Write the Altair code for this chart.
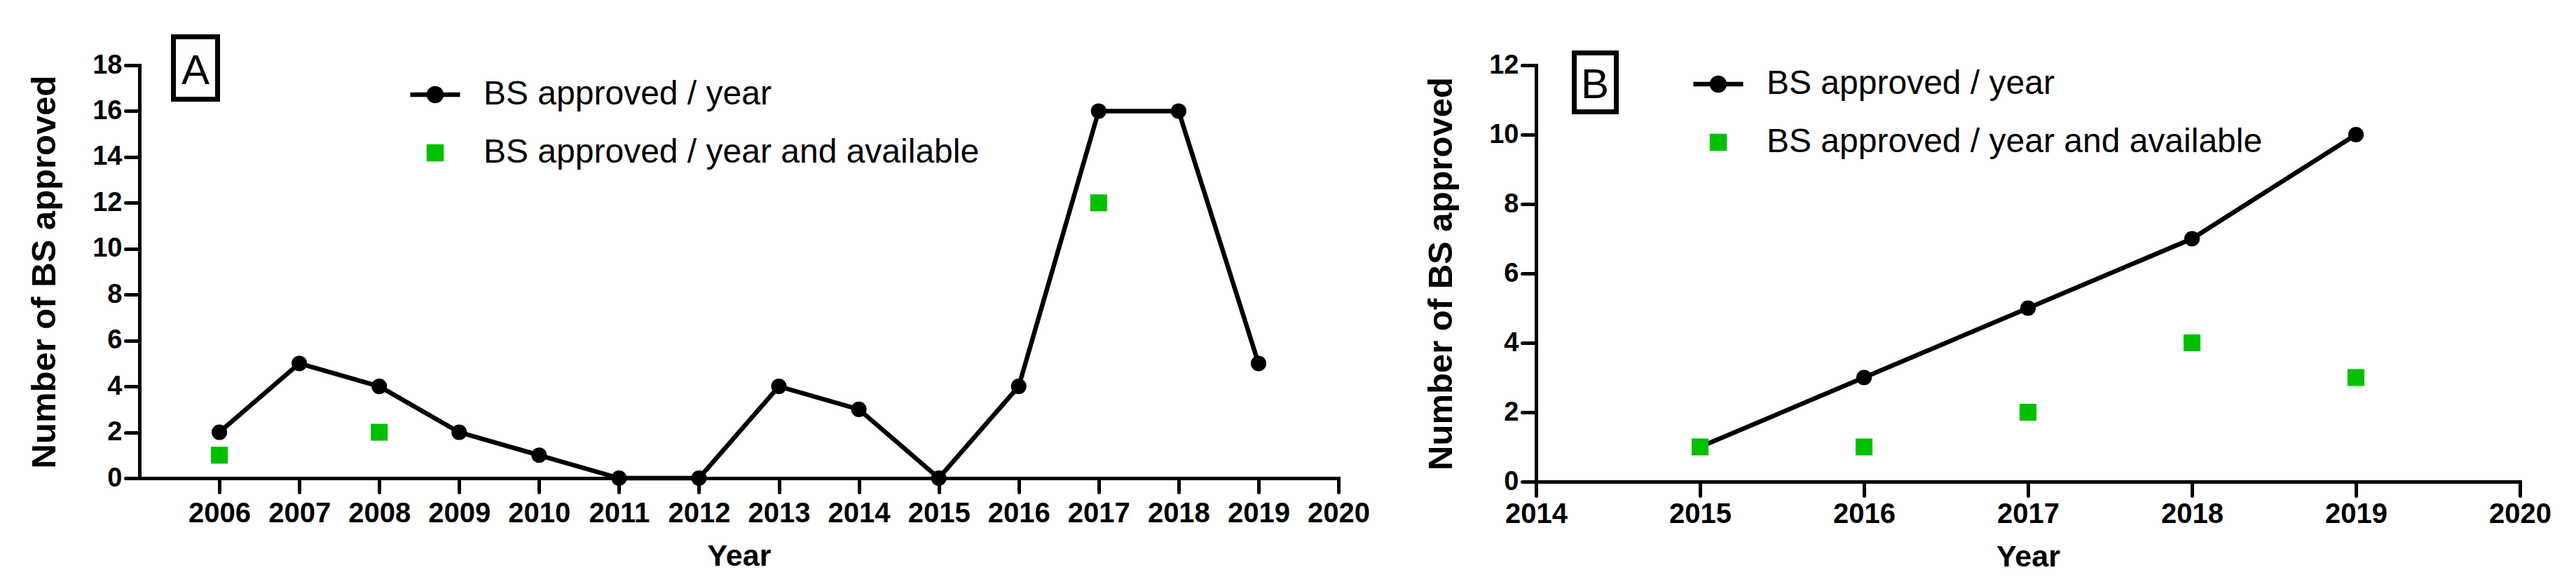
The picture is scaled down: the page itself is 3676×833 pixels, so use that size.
import altair as alt
import pandas as pd

# ---------------- data ----------------
series_names = ["BS approved / year", "BS approved / year and available"]

years_a = [2006, 2007, 2008, 2009, 2010, 2011, 2012, 2013, 2014, 2015, 2016, 2017, 2018, 2019]
approved_a = [2, 5, 4, 2, 1, 0, 0, 4, 3, 0, 4, 16, 16, 5]
avail_years_a = [2006, 2008, 2017]
avail_a = [1, 2, 12]

years_b = [2015, 2016, 2017, 2018, 2019]
approved_b = [1, 3, 5, 7, 10]
avail_years_b = [2015, 2016, 2017, 2018, 2019]
avail_b = [1, 1, 2, 4, 3]

x_ticks_a = list(range(2006, 2021))
x_ticks_b = list(range(2014, 2021))
y_ticks_a = list(range(0, 19, 2))
y_ticks_b = list(range(0, 13, 2))

# ---------------- style ----------------
FONT = "Liberation Sans"
GREEN = "#00C000"
# legend symbol: a short line through a dot (unit box, scaled by sqrt(size)/2)
LINE_DOT = "M-2.9,-0.27L2.9,-0.27L2.9,0.27L-2.9,0.27Z M1,0A1,1,0,1,1,-1,0A1,1,0,1,1,1,0Z"


def panel(letter, years, approved, avail_years, avail, xdom, xticks, ydom, yticks,
          width, height, legend_x, legend_y, box, text_xy, xlab_pad):
    line_df = pd.DataFrame({"Year": years, "Value": approved, "Series": series_names[0]})
    avail_df = pd.DataFrame({"Year": avail_years, "Value": avail, "Series": series_names[1]})
    both = pd.concat([line_df, avail_df], ignore_index=True)

    x = alt.X("Year:Q",
              scale=alt.Scale(domain=xdom, nice=False, zero=False),
              axis=alt.Axis(values=xticks, format="d", title="Year",
                            labelPadding=xlab_pad))
    y = alt.Y("Value:Q",
              scale=alt.Scale(domain=ydom, nice=False, zero=True),
              axis=alt.Axis(values=yticks, title="Number of BS approved"))

    line = alt.Chart(line_df).mark_line(color="black", strokeWidth=6.5).encode(x=x, y=y)
    dots = alt.Chart(line_df).mark_point(filled=True, shape="circle", size=490,
                                         color="black", opacity=1).encode(x=x, y=y)
    squares = alt.Chart(avail_df).mark_point(filled=True, shape="square", size=580,
                                             color=GREEN, opacity=1).encode(x=x, y=y)

    leg = alt.Legend(orient="none", legendX=legend_x, legendY=legend_y, title=None,
                     labelFont=FONT, labelFontSize=48, labelColor="black",
                     labelLimit=2000, labelOffset=45, rowPadding=35, padding=0,
                     symbolSize=600, symbolOpacity=1, symbolStrokeWidth=0)
    legend_layer = alt.Chart(both).mark_point(filled=True, opacity=0, size=1).encode(
        x=x, y=y,
        color=alt.Color("Series:N", scale=alt.Scale(domain=series_names, range=["black", GREEN]),
                        legend=leg),
        shape=alt.Shape("Series:N", scale=alt.Scale(domain=series_names, range=[LINE_DOT, "square"]),
                        legend=leg),
    )

    lab_df = pd.DataFrame({"label": [letter]})
    frame = alt.Chart(lab_df).mark_rect(fill="white", fillOpacity=0, stroke="black",
                                        strokeWidth=7).encode(
        x=alt.value(box[0]), x2=alt.value(box[1]), y=alt.value(box[2]), y2=alt.value(box[3]))
    letter_text = alt.Chart(lab_df).mark_text(font=FONT, fontSize=60, align="center",
                                              baseline="alphabetic", color="black").encode(
        text="label:N", x=alt.value(text_xy[0]), y=alt.value(text_xy[1]))

    return alt.layer(line, dots, squares, legend_layer, frame, letter_text).properties(
        width=width, height=height)


chart_a = panel("A", years_a, approved_a, avail_years_a, avail_a,
                [2005, 2020], x_ticks_a, [0, 18], y_ticks_a,
                1711, 589, 398, 18, (48.5, 111.5, -40.5, 48.5), (80, 27), 10)
chart_b = panel("B", years_b, approved_b, avail_years_b, avail_b,
                [2014, 2020], x_ticks_b, [0, 12], y_ticks_b,
                1404, 594, 236, 3, (54.5, 114.5, -17.5, 66.5), (84, 47), 6)

chart = alt.hconcat(chart_a, chart_b, spacing=282, bounds="flush").resolve_scale(
    color="independent", shape="independent"
).resolve_legend(
    color="independent", shape="independent"
).properties(
    padding={"left": 31, "top": 41, "right": 0, "bottom": 0}
).configure_view(stroke=None).configure_axis(
    domainColor="black", domainWidth=5, domainCap="square",
    tickColor="black", tickWidth=5, tickSize=20, tickCap="round",
    grid=False, labelFlush=False, labelOverlap=False,
    labelFont=FONT, labelFontWeight="bold", labelColor="black",
    titleFont=FONT, titleFontWeight="bold", titleColor="black",
).configure_axisX(
    labelFontSize=40, titleFontSize=43, titlePadding=20,
).configure_axisY(
    labelFontSize=38, labelPadding=5, titleFontSize=49, titlePadding=43,
)

chart.save("out.html", embed_options={"renderer": "svg", "actions": False})
